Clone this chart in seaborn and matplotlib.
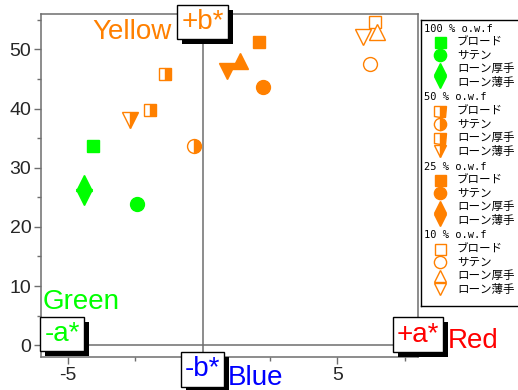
import matplotlib
matplotlib.use("Agg")
import matplotlib.pyplot as plt
import matplotlib.patheffects as pe
from matplotlib.ticker import MultipleLocator
import seaborn as sns
import pandas as pd

# ---------------- data ----------------
fabrics = ['ブロード', 'サテン', 'ローン厚手', 'ローン薄手']
groups = ['100 % o.w.f', '50 % o.w.f', '25 % o.w.f', '10 % o.w.f']

a_100 = [-4.07, -2.44, -4.40, -4.40]
b_100 = [33.7, 23.9, 27.5, 25.0]
a_50 = [-1.38, -0.33, -1.96, -2.70]
b_50 = [45.8, 33.7, 39.7, 38.0]
a_25 = [2.11, 2.26, 1.40, 0.89]
b_25 = [51.2, 43.6, 48.0, 46.3]
a_10 = [6.39, 6.21, 6.46, 5.96]
b_10 = [54.6, 47.6, 52.9, 52.1]

x_ticks = [-5, 0, 5]
x_tick_labels = ['-5', '', '5']
y_ticks = [0, 10, 20, 30, 40, 50]

GREEN = '#00FF00'
ORANGE = '#FF8000'
GRAY = '#6e6e6e'

sns.set_theme(style='white')
plt.rcParams['font.family'] = ['Liberation Sans', 'Noto Sans CJK JP', 'DejaVu Sans']

rows = []
for g, aa, bb in zip(groups, [a_100, a_50, a_25, a_10], [b_100, b_50, b_25, b_10]):
    for f, a, b in zip(fabrics, aa, bb):
        rows.append(dict(group=g, fabric=f, a=a, b=b))
df = pd.DataFrame(rows)

marker_of = {'ブロード': 's', 'サテン': 'o', 'ローン厚手': '^', 'ローン薄手': 'v'}
size_of = {'s': 9, 'o': 10, '^': 11, 'v': 11}
half_marker_of = {'ブロード': 's', 'サテン': 'o', 'ローン厚手': 's', 'ローン薄手': 'v'}


def style_of(group, fabric, legend=False):
    m = half_marker_of[fabric] if group == groups[1] else marker_of[fabric]
    ms = size_of[m]
    if legend:
        ms = ms * (0.78 if m in '^v' else 0.88)
    if group == groups[0]:
        return dict(marker=m, markersize=ms, color=GREEN, markerfacecolor=GREEN,
                    markeredgecolor=GREEN, markeredgewidth=1)
    if group == groups[1]:
        return dict(marker=m, markersize=ms, color=ORANGE, markerfacecolor=ORANGE,
                    markerfacecoloralt='white', fillstyle='right',
                    markeredgecolor=ORANGE, markeredgewidth=1)
    if group == groups[2]:
        return dict(marker=m, markersize=ms, color=ORANGE, markerfacecolor=ORANGE,
                    markeredgecolor=ORANGE, markeredgewidth=1)
    return dict(marker=m, markersize=ms, color=ORANGE, markerfacecolor='white',
                markeredgecolor=ORANGE, markeredgewidth=1)


fig = plt.figure(figsize=(5.18, 3.90), dpi=100)
ax = fig.add_axes([41 / 518, (390 - 357) / 390, (418 - 41) / 518, (357 - 14) / 390])

ax.axvline(0, color=GRAY, lw=1.1, zorder=1)
ax.axhline(0, color=GRAY, lw=1.1, zorder=1)

for _, r in df.iterrows():
    sns.lineplot(x=[r['a']], y=[r['b']], ax=ax, linestyle='none', legend=False,
                 **style_of(r['group'], r['fabric']))

ax.set_xlim(-6, 8)
ax.set_ylim(-2, 56)
ax.set_xticks(x_ticks)
ax.set_xticklabels(x_tick_labels)
ax.set_yticks(y_ticks)
ax.xaxis.set_minor_locator(MultipleLocator(2.5))
ax.yaxis.set_minor_locator(MultipleLocator(5))
ax.tick_params(axis='both', which='major', direction='out', length=5, width=1,
               color=GRAY, labelsize=14, bottom=True, left=True, pad=2)
ax.tick_params(axis='both', which='minor', direction='out', length=3, width=1,
               color=GRAY, bottom=True, left=True)
for s in ax.spines.values():
    s.set_color(GRAY)
    s.set_linewidth(1.1)
ax.set_xlabel('')
ax.set_ylabel('')


def boxed(x, y, s, color):
    t = ax.text(x, y, s, color=color, fontsize=20, ha='center', va='center',
                zorder=10, clip_on=False,
                bbox=dict(boxstyle='square,pad=0.15', fc='white', ec='black', lw=1))
    t.get_bbox_patch().set_path_effects([
        pe.SimplePatchShadow(offset=(3.5, -3.5), shadow_rgbFace='black', alpha=1),
        pe.Normal()])
    return t


boxed(0, 54.6, '+b*', ORANGE)
ax.text(-1.15, 51.7, 'Yellow', color=ORANGE, fontsize=20, ha='right', va='baseline',
        zorder=9, clip_on=False)
boxed(-5.22, 1.9, '-a*', GREEN)
ax.text(-5.93, 6.1, 'Green', color=GREEN, fontsize=20, ha='left', va='baseline',
        zorder=9, clip_on=False)
boxed(8.0, 1.8, '+a*', 'red')
ax.text(9.1, -0.5, 'Red', color='red', fontsize=20, ha='left', va='baseline',
        zorder=9, clip_on=False)
boxed(0, -4.1, '-b*', 'blue')
ax.text(0.95, -6.8, 'Blue', color='blue', fontsize=20, ha='left', va='baseline',
        zorder=9, clip_on=False)

# ---------------- legend panel ----------------
lg = fig.add_axes([421 / 518, (390 - 306) / 390, 110 / 518, (306 - 20) / 390])
lg.set_xlim(421, 531)
lg.set_ylim(306, 20)
lg.set_xticks([])
lg.set_yticks([])
lg.set_facecolor('white')
for s in lg.spines.values():
    s.set_color('black')
    s.set_linewidth(1)

header_y = [28.5, 97.5, 166.5, 235.5]
for g, hy in zip(groups, header_y):
    lg.text(424, hy, g, fontsize=7.5, family=['DejaVu Sans Mono'], va='center',
            ha='left', color='black')
    for k, f in enumerate(fabrics):
        yy = hy + 13.4 * (k + 1)
        lg.plot([440], [yy], linestyle='none', **style_of(g, f, legend=True))
        lg.text(457, yy, f, fontsize=8.3, family=['Noto Sans CJK JP'], va='center',
                ha='left', color='black')

fig.savefig('out.png', dpi=100)
